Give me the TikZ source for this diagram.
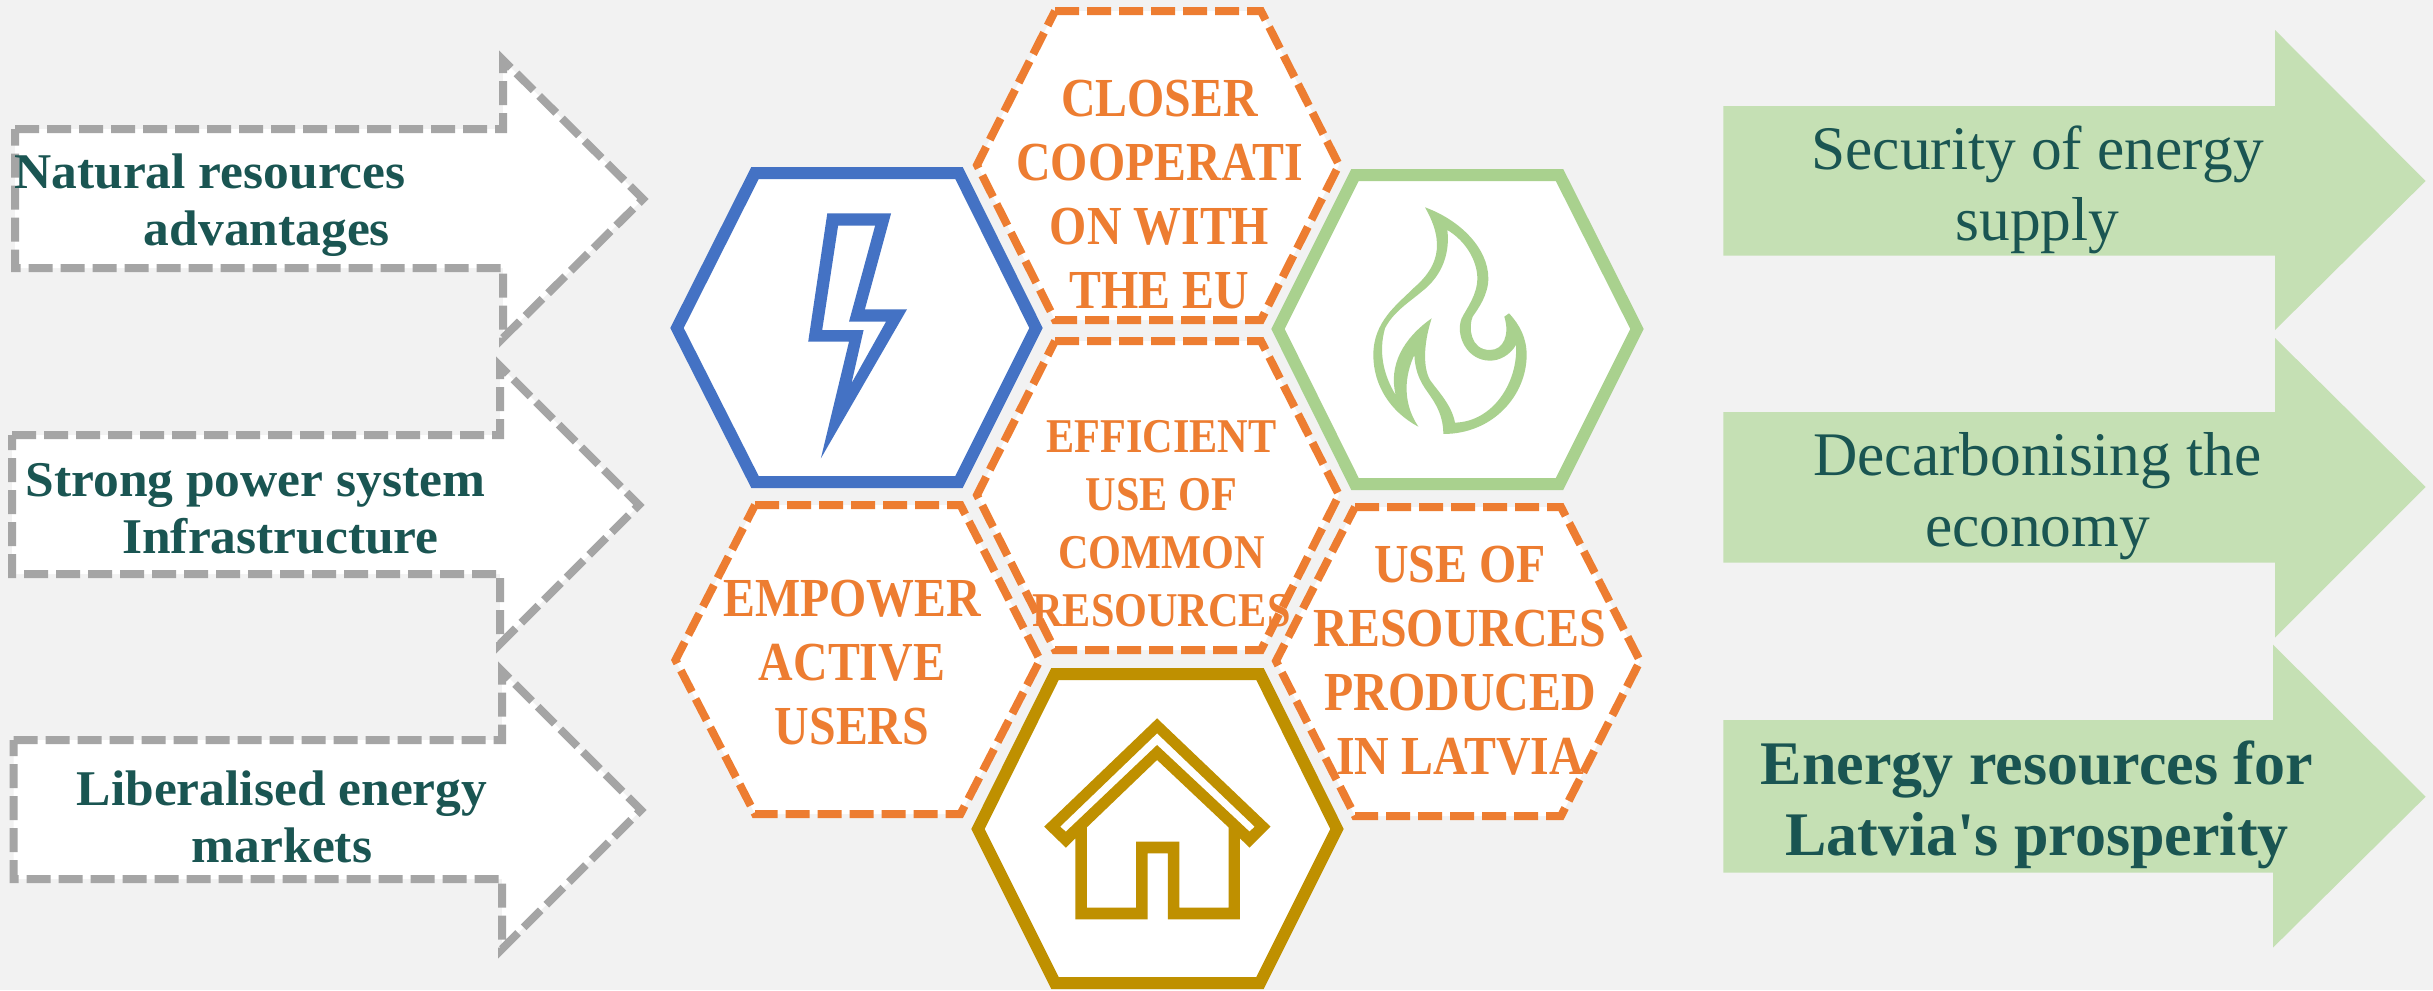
\documentclass[tikz,border=0pt]{standalone}
\usepackage{fontspec}
\setmainfont{Liberation Serif}
\newfontfamily\hexfont[FakeStretch=0.87]{Liberation Serif}
\newfontfamily\leftfont[FakeStretch=1.03]{Liberation Serif}
\newfontfamily\rightfont[FakeStretch=0.99]{Liberation Serif}
\newfontfamily\plainfont{Liberation Serif}
\definecolor{bgc}{HTML}{F2F2F2}
\definecolor{orangec}{HTML}{ED7D31}
\definecolor{bluec}{HTML}{4472C4}
\definecolor{greenc}{HTML}{A9D18E}
\definecolor{goldc}{HTML}{BF9000}
\definecolor{grayc}{HTML}{A5A5A5}
\definecolor{arrowc}{HTML}{C5E0B4}
\definecolor{tealc}{HTML}{1A5552}
\tikzset{
  solidhex/.style={draw=#1,fill=white,line width=9pt,miter limit=10,line join=miter},
  dashhex/.style={draw=orangec,fill=white,line width=6pt,dash pattern=on 18pt off 6pt},
  grayarrow/.style={draw=grayc,fill=white,line width=6pt,miter limit=10,dash pattern=on 18pt off 6pt},
  greenarrow/.style={fill=arrowc},
  hextext/.style={anchor=base,inner sep=0pt,align=center,text=orangec,font=\hexfont\bfseries\fontsize{41.25}{48}\selectfont},
  midtext/.style={anchor=base,inner sep=0pt,align=center,text=orangec,font=\hexfont\bfseries\fontsize{36.4}{43.5}\selectfont},
  lefttext/.style={anchor=base,inner sep=0pt,align=center,text=tealc,font=\leftfont\bfseries\fontsize{37.5}{42.75}\selectfont},
  righttext/.style={anchor=base,inner sep=0pt,align=center,text=tealc,font=\rightfont\fontsize{46.5}{53.25}\selectfont},
  boldright/.style={anchor=base,inner sep=0pt,align=center,text=tealc,font=\plainfont\bfseries\fontsize{46.5}{52.9}\selectfont},
}
\begin{document}
\begin{tikzpicture}[x=.75pt,y=-.75pt]
\useasboundingbox (0,0) rectangle (2433,990);
\fill[bgc] (0,0) rectangle (2433,990);

% left dashed arrows
\draw[grayarrow] (15,129) -- (503,129) -- (503,60) -- (643,199) -- (503,338) -- (503,268) -- (15,268) -- cycle;
\draw[grayarrow] (12,435) -- (500,435) -- (500,366) -- (639,505) -- (500,644) -- (500,574) -- (12,574) -- cycle;
\draw[grayarrow] (13.5,740) -- (502,740) -- (502,671) -- (641,810) -- (502,949) -- (502,879) -- (13.5,879) -- cycle;

% right green arrows
\fill[greenarrow] (1723.4,106) -- (2275,106) -- (2275,30) -- (2425.6,181) -- (2275,330) -- (2275,255.7) -- (1723.4,255.7) -- cycle;
\fill[greenarrow] (1723.4,412) -- (2275,412) -- (2275,338) -- (2425.6,487) -- (2275,637.6) -- (2275,562.5) -- (1723.4,562.5) -- cycle;
\fill[greenarrow] (1723.4,720) -- (2273,720) -- (2273,644.6) -- (2425.6,796.7) -- (2273,947.6) -- (2273,872.5) -- (1723.4,872.5) -- cycle;

% hexagons
\draw[dashhex] (1055,11) -- (1261,11) -- (1339,165) -- (1261,320) -- (1055,320) -- (977,165) -- cycle;
\draw[dashhex] (1055,341) -- (1261,341) -- (1339,495) -- (1261,650) -- (1055,650) -- (977,495) -- cycle;
\draw[dashhex] (755,505) -- (960.5,505) -- (1040,660) -- (960.5,814) -- (755,814) -- (675.5,660) -- cycle;
\draw[dashhex] (1355,507) -- (1561,507) -- (1640,661) -- (1561,816) -- (1355,816) -- (1276,661) -- cycle;
\draw[solidhex=bluec] (755,173) -- (959,173) -- (1036,328) -- (959,482) -- (755,482) -- (677,328) -- cycle;
\draw[solidhex=greenc] (1355,175) -- (1559.5,175) -- (1637,329) -- (1559.5,484) -- (1355,484) -- (1278,329) -- cycle;
\draw[solidhex=goldc] (1055,674) -- (1260,674) -- (1337,829) -- (1260,983) -- (1055,983) -- (978,829) -- cycle;

% lightning bolt
\fill[bluec,even odd rule]
  (827.3,213.3) -- (891.1,213.3) -- (864.9,309.3) -- (907,309.3) -- (820.9,458.3) -- (849,341.7) -- (808.2,341.7) -- cycle
  (838.1,225.7) -- (875.1,225.7) -- (849,321.7) -- (886,321.7) -- (851.5,383.3) -- (863.6,330) -- (822.2,330) -- cycle;

% flame
\begin{scope}[shift={(1360,195)},xscale=0.3333,yscale=0.3333]
\fill[greenc,even odd rule]
  (195,37) .. controls (300,75) and (385,160) .. (385,250)
  .. controls (385,300) and (355,340) .. (338,365)
  .. controls (325,395) and (330,465) .. (390,465)
  .. controls (430,465) and (450,420) .. (433,365)
  -- (447,355)
  .. controls (480,390) and (500,430) .. (500,480)
  .. controls (500,600) and (400,717) .. (250,717)
  .. controls (250,650) and (215,610) .. (195,580)
  .. controls (175,550) and (165,520) .. (163,480)
  .. controls (135,540) and (125,620) .. (175,695)
  .. controls (90,650) and (40,570) .. (40,480)
  .. controls (40,380) and (110,330) .. (160,280)
  .. controls (230,220) and (260,150) .. (195,37) -- cycle
  (262,105) .. controls (320,140) and (352,200) .. (352,250)
  .. controls (352,300) and (320,340) .. (305,370)
  .. controls (285,420) and (320,497) .. (390,497)
  .. controls (420,497) and (450,480) .. (468,450)
  .. controls (475,560) and (400,680) .. (285,683)
  .. controls (275,630) and (235,590) .. (210,555)
  .. controls (185,510) and (195,430) .. (215,370)
  .. controls (130,430) and (85,510) .. (107,600)
  .. controls (70,540) and (55,470) .. (75,400)
  .. controls (100,350) and (150,320) .. (185,290)
  .. controls (250,240) and (270,170) .. (262,105) -- cycle;
\end{scope}

% house
\begin{scope}[shift={(650,490)},xscale=0.6378,yscale=0.3333]
\fill[goldc,even odd rule]
  (795,685) -- (973,1010) -- (940,1073) -- (925,1045) -- (925,1288) -- (812,1288) -- (812,1090) -- (780,1090) -- (780,1288) -- (667,1288) -- (667,1045) -- (652,1073) -- (618,1010) -- cycle
  (795,730) -- (948,1010) -- (940,1025) -- (795,765) -- (652,1025) -- (643,1010) -- cycle
  (795,810) -- (907,1012) -- (907,1253) -- (830,1253) -- (830,1055) -- (762,1055) -- (762,1253) -- (685,1253) -- (685,1012) -- cycle;
\end{scope}

% hexagon texts (the base anchor is the baseline of the last line)
\node[hextext] (closer) at (1159.5,308) {CLOSER\\COOPERATI\\ON WITH\\THE EU};
\node[midtext] (efficient) at (1161.5,626) {EFFICIENT\\USE OF\\COMMON\\RESOURCES};
\node[hextext] (empower) at (852,744) {EMPOWER\\ACTIVE\\USERS};
\node[hextext] (useof) at (1460,774) {USE OF\\RESOURCES\\PRODUCED\\IN LATVIA};

% left texts
\node[lefttext] (natural) at (210,245) {Natural resources\\\hspace*{85.5pt}advantages};
\node[lefttext] (strong) at (255.5,553) {Strong power system\\\hspace*{37.5pt}Infrastructure};
\node[lefttext] (liberal) at (282,862) {Liberalised energy\\markets};

% right texts
\node[righttext] (security) at (2037.5,240) {Security of energy\\supply};
\node[righttext] (decarb) at (2037.5,546) {Decarbonising the\\economy};
\node[boldright] (prosper) at (2037,855) {Energy resources for\\Latvia's prosperity};
\end{tikzpicture}
\end{document}
